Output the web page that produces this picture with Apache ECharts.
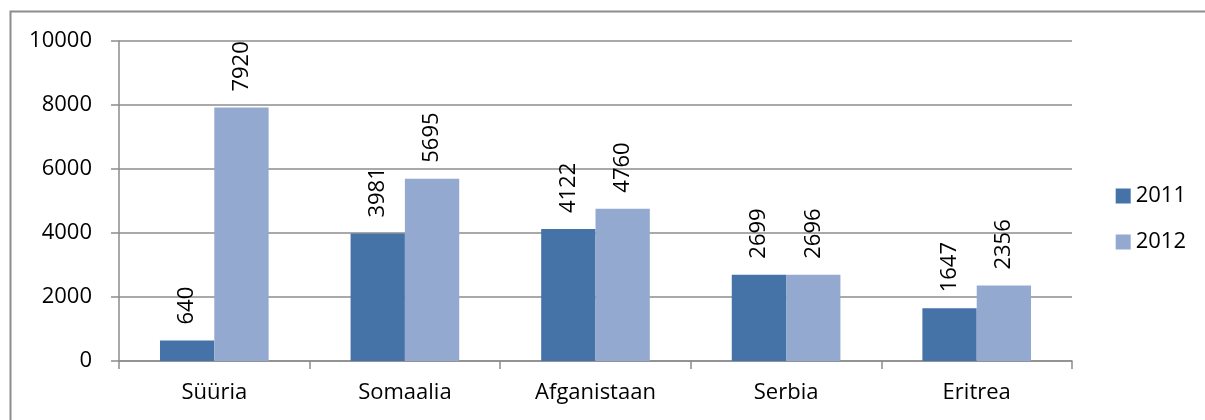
<!DOCTYPE html>
<html>
<head>
<meta charset="utf-8">
<script src="https://cdn.jsdelivr.net/npm/echarts@6/dist/echarts.min.js"></script>
<style>
  html, body { margin: 0; padding: 0; background: #fff; }
  #chart { width: 1205px; height: 420px; }
</style>
</head>
<body>
<div id="chart"></div>
<script>
const categories = ["Süüria", "Somaalia", "Afganistaan", "Serbia", "Eritrea"];
const values2011 = [640, 3981, 4122, 2699, 1647];
const values2012 = [7920, 5695, 4760, 2696, 2356];
const seriesNames = ["2011", "2012"];

const FONT = "Open Sans";

const barLabel = {
  show: true,
  position: "top",
  rotate: 90,
  align: "left",
  verticalAlign: "middle",
  distance: 16,
  color: "#000",
  fontFamily: FONT,
  fontSize: 22,
};

const option = {
  animation: false,
  textStyle: { fontFamily: FONT },
  graphic: [
    {
      type: "rect",
      shape: { x: 10.5, y: 11.5, width: 1220, height: 430 },
      style: { fill: "none", stroke: "#8c8c8c", lineWidth: 2 },
      z: -1,
    },
  ],
  grid: {
    left: 119,
    right: 133,
    top: 41,
    bottom: 59,
  },
  legend: {
    orient: "vertical",
    right: 14,
    top: 180,
    itemWidth: 15,
    itemHeight: 15,
    itemGap: 24,
    icon: "rect",
    textStyle: { color: "#000", fontSize: 22, fontFamily: FONT },
    data: seriesNames,
  },
  xAxis: {
    type: "category",
    data: categories,
    axisLine: { lineStyle: { color: "#8c8c8c", width: 1.5 } },
    axisTick: { show: true, length: 8, lineStyle: { color: "#8c8c8c", width: 1.5 } },
    axisLabel: { color: "#000", fontSize: 22, fontFamily: FONT, margin: 21 },
  },
  yAxis: {
    type: "value",
    min: 0,
    max: 10000,
    interval: 2000,
    axisLine: { show: true, lineStyle: { color: "#8c8c8c", width: 1.5 } },
    axisTick: { show: true, length: 8, lineStyle: { color: "#8c8c8c", width: 1.5 } },
    splitLine: { lineStyle: { color: "#8c8c8c", width: 1.5 } },
    axisLabel: {
      color: "#000",
      fontSize: 22,
      fontFamily: FONT,
      margin: 27,
      formatter: (v) => String(v),
    },
  },
  series: [
    {
      name: seriesNames[0],
      type: "bar",
      data: values2011,
      barGap: "0%",
      barCategoryGap: "43%",
      itemStyle: { color: "#4572a7" },
      label: barLabel,
    },
    {
      name: seriesNames[1],
      type: "bar",
      data: values2012,
      itemStyle: { color: "#94a9d0" },
      label: barLabel,
    },
  ],
};

const myChart = echarts.init(document.getElementById("chart"));
myChart.setOption(option);
</script>
</body>
</html>
